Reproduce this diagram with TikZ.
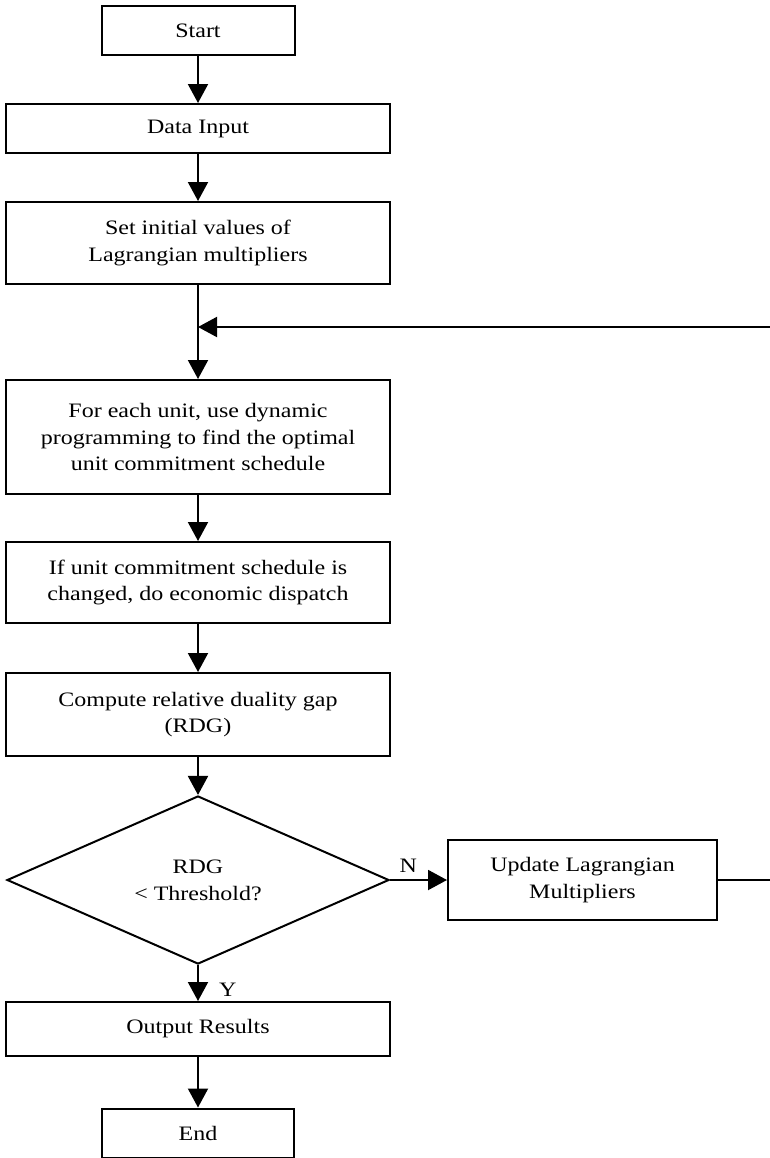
\documentclass[tikz,border=0pt]{standalone}
\usepackage{fontspec}
\setmainfont[FakeStretch=1.17]{Liberation Serif}
\usetikzlibrary{arrows.meta, shapes.geometric}
\tikzset{
  every picture/.style={font=\fontsize{10.25pt}{13.4pt}\selectfont, line width=1pt},
  box/.style={draw, minimum width=#1, inner sep=0pt, align=center},
  box/.default=192pt,
  decision/.style={draw, diamond, minimum width=191pt, minimum height=75.5pt, inner sep=0pt, align=center},
  arrow/.style={-{Triangle[length=9.5pt, width=10pt]}},
  lbl/.style={inner sep=2pt},
}
\begin{document}
\begin{tikzpicture}[x=0.5pt, y=-0.5pt]
  \useasboundingbox (0,0) rectangle (770,1158);
  % main column
  \node[box=96.5pt, minimum height=24.5pt] (start) at (198,30.5) {Start};
  \node[box, minimum height=24.5pt] (input) at (198,128.5) {Data Input};
  \node[box, minimum height=41pt] (init) at (198,243) {Set initial values of\\Lagrangian multipliers};
  \coordinate (join) at (198,327);
  \node[box, minimum height=57pt] (unit) at (198,437) {For each unit, use dynamic\\programming to find the optimal\\unit commitment schedule};
  \node[box, minimum height=40.5pt] (dispatch) at (198,582.5) {If unit commitment schedule is\\changed, do economic dispatch};
  \node[box, minimum height=41.5pt] (gap) at (198,714.5) {Compute relative duality gap\\(RDG)};
  \node[decision] (check) at (198,880) {RDG\\< Threshold?};
  \node[box=134.5pt, minimum height=40pt] (update) at (582.5,880) {Update Lagrangian\\Multipliers};
  \node[box, minimum height=27pt] (output) at (198,1029) {Output Results};
  \node[box=96pt, minimum height=24.5pt] (stop) at (198,1133) {End};
  % connectors
  \draw[arrow] (start) -- (input);
  \draw[arrow] (input) -- (init);
  \draw[arrow] (init) -- (join) -- (unit);
  \draw[arrow] (unit) -- (dispatch);
  \draw[arrow] (dispatch) -- (gap);
  \draw[arrow] (gap) -- (check);
  \draw[arrow] (check) -- node[lbl, pos=0.32, above=1.5pt] (no) {N} (update);
  \draw[arrow] (check) -- node[lbl, pos=0.7, right=8pt] (yes) {Y} (output);
  \draw[arrow] (output) -- (stop);
  % loop back
  \coordinate (back) at (790,327);
  \draw[arrow] (update) -| (back) -- (join);
\end{tikzpicture}
\end{document}
